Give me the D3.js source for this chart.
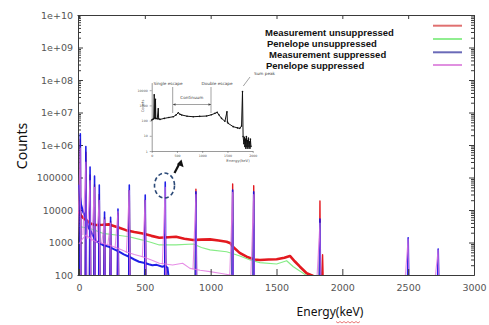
<!DOCTYPE html>
<html><head><meta charset="utf-8">
<script src="https://cdn.jsdelivr.net/npm/d3@7"></script>
<style>body{margin:0;background:#fff}svg{display:block}</style>
</head><body>
<svg id="c" width="489" height="325"></svg>
<script>
// ---------- data ----------
const xTicks = [0, 500, 1000, 1500, 2000, 2500, 3000];
const xTickLabels = ["0", "500", "1000", "1500", "2000", "2500", "3000"];
const yTicks = [1e2, 1e3, 1e4, 1e5, 1e6, 1e7, 1e8, 1e9, 1e10];
const yTickLabels = ["100", "1000", "10000", "100000", "1e+06", "1e+07", "1e+08", "1e+09", "1e+10"];
const seriesNames = ["Measurement unsuppressed", "Penelope unsuppressed", "Measurement suppressed", "Penelope suppressed"];

// continuum [keV, counts]
const redCont = [[0,9000],[12,7000],[30,5800],[53,4900],[90,3800],[129,3450],[180,3500],[228,3600],[300,2900],[357,2400],[420,2100],[484,1900],[550,1600],[610,1400],[680,1450],[737,1500],[800,1300],[866,1200],[930,1230],[995,1250],[1060,1150],[1121,1060],[1150,950],[1169,740],[1220,480],[1273,365],[1330,300],[1374,290],[1440,300],[1501,305],[1560,340],[1602,385],[1640,260],[1678,180],[1729,113],[1779,93]];
const greenCont = [[0,3100],[40,2900],[78,2740],[130,2300],[180,1920],[281,1700],[380,1500],[484,1190],[550,1000],[610,840],[737,840],[868,900],[930,700],[995,590],[1121,520],[1170,450],[1222,385],[1300,290],[1374,240],[1501,218],[1577,275],[1628,180],[1703,113],[1731,93]];
const blueCont = [[0,60000],[5,30000],[15,15000],[30,9000],[53,5600],[70,3000],[91,2150],[129,1100],[180,840],[228,740],[260,640],[304,520],[340,430],[380,365],[420,300],[456,256],[500,235],[530,215],[557,200],[590,205],[633,180],[650,190],[672,170],[680,90]];
const magentaCont = [[0,900],[20,1200],[53,1700],[90,1300],[129,1060],[228,840],[300,650],[357,520],[420,430],[484,365],[550,290],[610,229],[711,203],[787,229],[843,160],[920,140],[995,127],[1071,113],[1150,100],[1200,90]];

// peaks [keV, top counts] (Penelope suppressed: [keV, top, foot counts on the low-energy side])
const redPeaks = [[10,1.5e6],[52,6e5],[84,1.2e5],[118,6e4],[154,3e4],[194,6000],[240,4500],[296,8000],[382,4e4],[503,2e4],[655,1800],[888,4.4e4],[1167,6.3e4],[1327,5.6e4],[1830,1.9e4],[1850,420]];
const greenPeaks = [[888,1.2e4],[1167,1.5e4],[1327,1.4e4],[1830,4000]];
const bluePeaks = [[10,2.2e6],[52,9e5],[84,2.1e5],[118,1.1e5],[154,5.9e4],[194,8700],[240,6000],[296,1.07e4],[382,5.9e4],[503,2.9e4],[655,7.2e4],[888,3.6e4],[1167,4.1e4],[1327,3.6e4],[1830,5300],[2500,1400],[2728,630]];
const magentaPeaks = [[10,8e5,1000],[52,3e5,1700],[84,8e4,1300],[118,5e4,1100],[154,2e4,1000],[194,5000,900],[240,4000,820],[296,9000,650],[382,4e4,480],[503,2e4,350],[655,5e4,215],[888,3e4,150],[1167,3.5e4,100],[1327,3e4,90],[1830,4000,90],[2500,1300,90],[2728,600,90]];

// inset spectrum [keV, counts]
const insetSpectrum = [[0,110],[20,120],[40,130],[50,5000],[58,150],[70,140],[75,2500],[82,140],[110,130],[130,600],[138,130],[164,120],[250,140],[340,160],[427,180],[480,230],[526,330],[560,260],[593,235],[700,195],[822,180],[950,190],[1087,200],[1180,240],[1251,300],[1297,350],[1330,240],[1383,140],[1450,90],[1490,380],[1500,80],[1514,66],[1613,40],[1700,33],[1745,31],[1779,44],[1798,8000],[1810,9],[1825,3],[1835,8],[1845,2],[1855,6],[1865,1.5],[1875,9],[1885,2],[1895,5],[1905,1.5],[1915,7],[1925,2],[1935,4],[1945,1.5],[1955,6],[1965,2]];
const insetXTicks = [0, 500, 1000, 1500, 2000];
const insetYTicks = [1, 10, 100, 1000, 10000];

// ---------- style ----------
const colors = ["#e3191f", "#86ec86", "#1414e6", "#e070e0"];
const legendColors = ["#e07070", "#90ee90", "#6a6ab8", "#e090e0"];

const svg = d3.select("#c");
const L = 79, R = 474, T = 15, B = 275;
const x = d3.scaleLinear().domain([0, 3000]).range([L, R]);
const y = d3.scaleLog().domain([100, 1e10]).range([B, T]);

svg.append("defs").append("clipPath").attr("id", "plot")
  .append("rect").attr("x", L - 1).attr("y", T).attr("width", R - L + 1).attr("height", B - T);

const minor = [];
yTicks.forEach(d => { for (let k = 2; k <= 9; k++) if (d * k < 1e10) minor.push(d * k); });

function styleAxis(g) {
  g.selectAll("path.domain").attr("stroke", "#3a3a3a");
  g.selectAll(".tick line").attr("stroke", "#3a3a3a");
  g.selectAll("text").attr("fill", "#555").attr("font-family", "DejaVu Sans").attr("font-size", 9.5);
}

// left axis
svg.append("g").attr("transform", `translate(${L - 1},0)`)
  .call(d3.axisLeft(y).tickValues(minor).tickSizeInner(-3).tickSizeOuter(0).tickFormat(""))
  .call(styleAxis);
svg.append("g").attr("transform", `translate(${L - 1},0)`)
  .call(d3.axisLeft(y).tickValues(yTicks).tickFormat((d, i) => yTickLabels[i]).tickSizeInner(-5).tickSizeOuter(0).tickPadding(5))
  .call(styleAxis);
// right axis
svg.append("g").attr("transform", `translate(${R},0)`)
  .call(d3.axisRight(y).tickValues(minor).tickSizeInner(-3).tickSizeOuter(0).tickFormat(""))
  .call(styleAxis);
svg.append("g").attr("transform", `translate(${R},0)`)
  .call(d3.axisRight(y).tickValues(yTicks).tickSizeInner(-5).tickSizeOuter(0).tickFormat(""))
  .call(styleAxis);
// top axis
svg.append("g").attr("transform", `translate(0,${T})`)
  .call(d3.axisTop(x).tickValues(xTicks).tickSizeInner(-4).tickSizeOuter(0).tickFormat(""))
  .call(styleAxis);

// ---------- series ----------
const line = d3.line().x(d => x(d[0])).y(d => y(d[1]));
const plot = svg.append("g").attr("clip-path", "url(#plot)");

function peakPath(peaks, left, right) {
  return peaks.map(p => line([[p[0] - left, p.length > 2 ? p[2] : 90], [p[0], p[1]], [p[0] + right, 90]])).join("");
}

const conts = [redCont, greenCont, blueCont, magentaCont];
const peaks = [redPeaks, greenPeaks, bluePeaks, magentaPeaks];
const widths = [2.6, 1.2, 2.0, 1.1];
const peakW = [1.4, 1.0, 1.6, 1.1];
const peakLeft = [4, 6, 4, 22];
const peakRight = [4, 4, 4, 3];
const opac = [1, 1, 0.95, 0.8];

conts.forEach((c, i) => {
  plot.append("path").attr("d", peakPath(peaks[i], peakLeft[i], peakRight[i]))
    .attr("fill", "none").attr("stroke", colors[i]).attr("stroke-width", peakW[i])
    .attr("stroke-opacity", opac[i]).attr("stroke-linejoin", "round");
  plot.append("path").attr("d", line(c))
    .attr("fill", "none").attr("stroke", colors[i]).attr("stroke-width", widths[i])
    .attr("stroke-opacity", opac[i]).attr("stroke-linejoin", "round");
});

// bottom axis drawn over data
svg.append("g").attr("transform", `translate(0,${B})`)
  .call(d3.axisBottom(x).tickValues(xTicks).tickFormat((d, i) => xTickLabels[i]).tickSizeInner(-6).tickSizeOuter(0).tickPadding(9.5))
  .call(styleAxis)
  .call(g => g.select("path.domain").attr("d", `M${L - 1.5},0.5H${R + 0.5}`));
svg.append("line").attr("x1", L - 1.5).attr("x2", R + 0.5).attr("y1", T + 0.5).attr("y2", T + 0.5).attr("stroke", "#3a3a3a");

// ---------- axis titles ----------
svg.append("text").attr("transform", "translate(27,146) rotate(-90)")
  .attr("text-anchor", "middle").attr("font-family", "Noto Sans").attr("font-size", 14).attr("fill", "#111").text("Counts");
svg.append("text").attr("x", 330).attr("y", 316)
  .attr("text-anchor", "middle").attr("font-family", "Noto Sans").attr("font-size", 12).attr("fill", "#111").text("Energy(keV)");
(function () {
  let d = "M336,321.5";
  for (let i = 0; i < 12; i++) d += `L${338 + i * 2},${i % 2 ? 321.5 : 323}`;
  svg.append("path").attr("d", d).attr("fill", "none").attr("stroke", "#e04040").attr("stroke-width", 0.7);
})();

// ---------- legend ----------
const legX = [265, 267, 269, 266];
const legY = [35.5, 46.5, 57.5, 68.5];
const legLineY = [25.7, 39, 52.3, 65];
seriesNames.forEach((n, i) => {
  svg.append("text").attr("x", legX[i]).attr("y", legY[i])
    .attr("font-family", "Liberation Sans").attr("font-weight", "bold").attr("font-size", 9.5)
    .attr("fill", "#111").text(n);
  svg.append("line").attr("x1", 433).attr("x2", 462).attr("y1", legLineY[i]).attr("y2", legLineY[i])
    .attr("stroke", legendColors[i]).attr("stroke-width", 2);
});

// ---------- inset ----------
const ix = d3.scaleLinear().domain([0, 2000]).range([151.7, 252.7]);
const iy = d3.scaleLog().domain([1, Math.pow(10, 4.5)]).range([151, 82.6]);
const ins = svg.append("g");
function styleInset(g, fs) {
  g.selectAll("path.domain").attr("stroke", "#555").attr("stroke-width", 0.6);
  g.selectAll(".tick line").attr("stroke", "#555").attr("stroke-width", 0.5);
  g.selectAll("text").attr("fill", "#555").attr("font-family", "DejaVu Sans").attr("font-size", fs);
}
ins.append("g").attr("transform", "translate(151.7,0)")
  .call(d3.axisLeft(iy).tickValues(insetYTicks).tickFormat(d3.format("d")).tickSizeInner(2).tickSizeOuter(0).tickPadding(2))
  .call(g => styleInset(g, 3.2));
ins.append("g").attr("transform", "translate(0,151)")
  .call(d3.axisBottom(ix).tickValues(insetXTicks).tickFormat(d3.format("d")).tickSizeInner(2).tickSizeOuter(0).tickPadding(1.5))
  .call(g => styleInset(g, 3.2));
const iline = d3.line().x(d => ix(d[0])).y(d => iy(d[1]));
ins.append("path").attr("d", iline(insetSpectrum)).attr("fill", "none").attr("stroke", "#111").attr("stroke-width", 1);
ins.selectAll("circle").data(insetSpectrum).join("circle")
  .attr("cx", d => ix(d[0])).attr("cy", d => iy(d[1])).attr("r", 0.8).attr("fill", "#111");
ins.append("text").attr("transform", "translate(143.5,106) rotate(-90)").attr("text-anchor", "middle")
  .attr("font-family", "DejaVu Sans").attr("font-size", 3.6).attr("fill", "#555").text("Counts");
ins.append("text").attr("x", 238).attr("y", 162).attr("text-anchor", "middle")
  .attr("font-family", "DejaVu Sans").attr("font-size", 3.8).attr("fill", "#555").text("Energy(keV)");
const annFont = (t, xx, yy, anchor) => ins.append("text").attr("x", xx).attr("y", yy).attr("text-anchor", anchor || "start")
  .attr("font-family", "DejaVu Sans").attr("font-size", 4.2).attr("fill", "#444").text(t);
annFont("Single escape", 153.5, 84.5);
annFont("Double escape", 201.5, 84.5);
annFont("Continuum", 191.8, 98.5, "middle");
annFont("Sum peak", 254, 75);
ins.append("path").attr("d", "M172.7,87V113M211,87V113M173,104.5H211M243.3,86L250,77")
  .attr("fill", "none").attr("stroke", "#444").attr("stroke-width", 0.5);
ins.append("path").attr("d", "M173,104.5l2.5,-1.2v2.4zM211,104.5l-2.5,-1.2v2.4z").attr("fill", "#444");

// ---------- annotation: dashed circle and arrow ----------
svg.append("ellipse").attr("cx", 164.5).attr("cy", 185.5).attr("rx", 10).attr("ry", 12.5)
  .attr("fill", "none").attr("stroke", "#2c4a78").attr("stroke-width", 1.6).attr("stroke-dasharray", "4,2.6");
svg.append("line").attr("x1", 174.5).attr("y1", 173).attr("x2", 179.6).attr("y2", 163.2)
  .attr("stroke", "#111").attr("stroke-width", 2.2);
svg.append("path").attr("d", "M181.5,159.5L183.6,167.2L176.9,164.2Z").attr("fill", "#111");
</script>
</body></html>
